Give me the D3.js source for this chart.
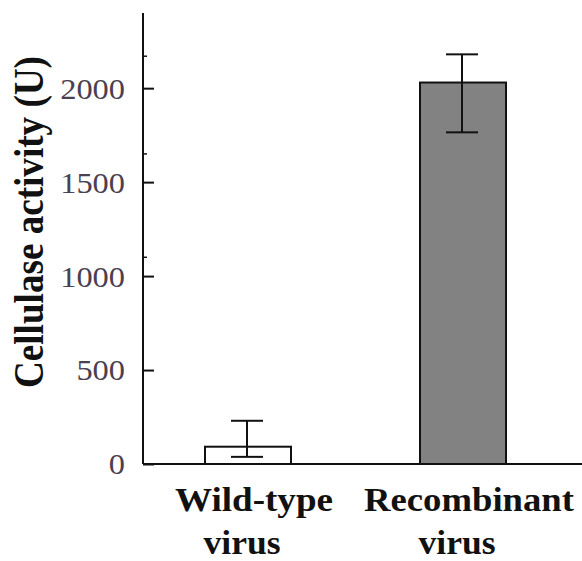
<!DOCTYPE html>
<html>
<head>
<meta charset="utf-8">
<script src="https://cdn.jsdelivr.net/npm/d3@7"></script>
<style>
  html, body { margin: 0; padding: 0; background: #fff; }
  svg { display: block; }
</style>
</head>
<body>
<div id="chart"></div>
<script>
// data
const groups = ["Wild-type virus", "Recombinant virus"];
const labelLines = [["Wild-type", "virus"], ["Recombinant", "virus"]];
const means = [92, 2030];
const errLow = [38, 1765];
const errHigh = [230, 2180];
const fills = ["#ffffff", "#828282"];
const yTicks = [0, 500, 1000, 1500, 2000];
const yMinorTicks = [1100, 1650, 2170];
const yLabel = "Cellulase activity (U)";

const width = 582, height = 561;
const marginLeft = 143, baseY = 464, topY = 13;

const svg = d3.select("#chart").append("svg")
    .attr("width", width)
    .attr("height", height);

const y = d3.scaleLinear().domain([0, 2400]).range([baseY, topY]);
const x = d3.scaleBand().domain(groups).range([119, 592])
    .paddingInner(0.6).paddingOuter(0.4);

// bars
svg.append("g")
  .selectAll("rect")
  .data(groups)
  .join("rect")
    .attr("x", d => x(d))
    .attr("y", (d, i) => y(means[i]))
    .attr("width", x.bandwidth())
    .attr("height", (d, i) => y(0) - y(means[i]))
    .attr("fill", (d, i) => fills[i])
    .attr("stroke", "#111")
    .attr("stroke-width", 2);

// error bars
const cap = 16;
const err = svg.append("g")
    .attr("stroke", "#111")
    .attr("stroke-width", 2)
  .selectAll("g")
  .data(groups)
  .join("g")
    .attr("transform", d => `translate(${x(d) + x.bandwidth() / 2 - 1},0)`);
err.append("line")
    .attr("y1", (d, i) => y(errLow[i]))
    .attr("y2", (d, i) => y(errHigh[i]));
err.append("line")
    .attr("x1", -cap).attr("x2", cap)
    .attr("y1", (d, i) => y(errHigh[i]))
    .attr("y2", (d, i) => y(errHigh[i]));
err.append("line")
    .attr("x1", -cap).attr("x2", cap)
    .attr("y1", (d, i) => y(errLow[i]))
    .attr("y2", (d, i) => y(errLow[i]));

// y axis, ticks pointing inward
const yAxis = svg.append("g")
    .attr("transform", `translate(${marginLeft},0)`)
    .call(d3.axisRight(y).tickValues(yTicks).tickSize(11).tickSizeOuter(0).tickFormat(""))
    .call(g => g.select(".domain").attr("stroke", "#111").attr("stroke-width", 2)
        .attr("d", `M0,${topY}V${baseY}`))
    .call(g => g.selectAll(".tick line").attr("stroke", "#111").attr("stroke-width", 2));

yAxis.selectAll(".minor")
  .data(yMinorTicks)
  .join("line")
    .attr("class", "minor")
    .attr("x1", 0).attr("x2", 4)
    .attr("y1", d => y(d)).attr("y2", d => y(d))
    .attr("stroke", "#111")
    .attr("stroke-width", 1.5);

// tick labels
svg.append("g")
  .selectAll("text")
  .data(yTicks)
  .join("text")
    .attr("x", 125)
    .attr("y", d => y(d))
    .attr("dy", "0.36em")
    .attr("text-anchor", "end")
    .attr("font-family", "'Liberation Serif', 'Times New Roman', serif")
    .attr("font-size", 29)
    .attr("fill", "#4a4050")
    .attr("textLength", d => String(d).length * 16.2)
    .attr("lengthAdjust", "spacingAndGlyphs")
    .text(d => d);

// x axis line
svg.append("line")
    .attr("x1", marginLeft).attr("x2", width)
    .attr("y1", baseY).attr("y2", baseY)
    .attr("stroke", "#111")
    .attr("stroke-width", 2);

// category labels
const lineW = { "Wild-type": 158, "Recombinant": 210, "virus": 77 };
const lab = svg.append("g")
    .attr("font-family", "'Liberation Serif', 'Times New Roman', serif")
    .attr("font-weight", "bold")
    .attr("font-size", 34)
    .attr("fill", "#111")
    .attr("text-anchor", "middle");
groups.forEach((g, i) => {
  labelLines[i].forEach((t, j) => {
    lab.append("text")
        .attr("x", x(g) + x.bandwidth() / 2 + (j === 0 ? 6 : -6))
        .attr("y", 511 + j * 43)
        .attr("textLength", lineW[t])
        .attr("lengthAdjust", "spacingAndGlyphs")
        .text(t);
  });
});

// y axis title
svg.append("text")
    .attr("transform", `translate(43,222) rotate(-90)`)
    .attr("text-anchor", "middle")
    .attr("font-family", "'Liberation Serif', 'Times New Roman', serif")
    .attr("font-weight", "bold")
    .attr("font-size", 42)
    .attr("fill", "#111")
    .attr("textLength", 332)
    .attr("lengthAdjust", "spacingAndGlyphs")
    .text(yLabel);
</script>
</body>
</html>
